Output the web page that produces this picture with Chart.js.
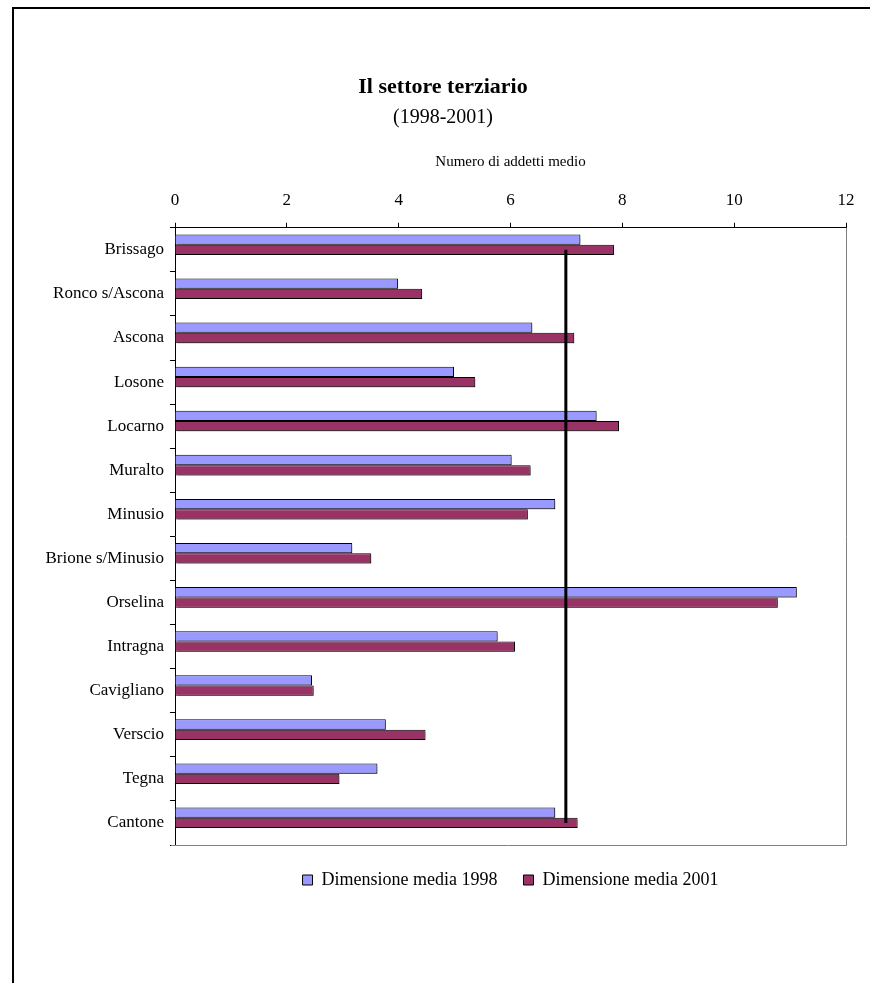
<!DOCTYPE html>
<html>
<head>
<meta charset="utf-8">
<script src="https://cdn.jsdelivr.net/npm/chart.js@4"></script>
<style>
  html, body { margin: 0; padding: 0; background: #fff; overflow: hidden; }
  #frame { position: absolute; left: 12px; top: 7px; width: 1000px; height: 1100px;
           border-left: 2px solid #000; border-top: 2px solid #000; }
  #wrap { position: absolute; left: 0; top: 0; width: 870px; height: 983px; }
</style>
</head>
<body>
<div id="frame"></div>
<div id="wrap"><canvas id="chart"></canvas></div>
<script>
// ── DATA ───────────────────────────────────────────────────────
const comuni = ['Brissago', 'Ronco s/Ascona', 'Ascona', 'Losone', 'Locarno', 'Muralto', 'Minusio',
  'Brione s/Minusio', 'Orselina', 'Intragna', 'Cavigliano', 'Verscio', 'Tegna', 'Cantone'];
const media1998 = [7.25, 3.99, 6.39, 4.99, 7.54, 6.02, 6.80, 3.17, 11.12, 5.77, 2.45, 3.77, 3.62, 6.80];
const media2001 = [7.85, 4.42, 7.14, 5.37, 7.94, 6.36, 6.31, 3.51, 10.78, 6.08, 2.48, 4.48, 2.94, 7.20];
const mediaCantone = [6.99, 6.99, 6.99, 6.99, 6.99, 6.99, 6.99, 6.99, 6.99, 6.99, 6.99, 6.99, 6.99, 6.99];
const spacer = [null, null, null, null, null, null, null, null, null, null, null, null, null, null];
const xTicks = [0, 2, 4, 6, 8, 10, 12];

const SERIF = '"Liberation Serif", "Times New Roman", serif';

// gray border on right / bottom of plot area
const plotFrame = {
  id: 'plotFrame',
  afterDraw(chart) {
    const { ctx, chartArea: a } = chart;
    ctx.save();
    ctx.strokeStyle = '#808080';
    ctx.lineWidth = 1;
    ctx.beginPath();
    ctx.moveTo(a.right + 0.5, a.top);
    ctx.lineTo(a.right + 0.5, a.bottom + 0.5);
    ctx.lineTo(a.left - 4, a.bottom + 0.5);
    ctx.stroke();
    ctx.restore();
  }
};

// light drop shadow on the bars
const barShadow = {
  id: 'barShadow',
  beforeDatasetDraw(chart, args) {
    if (args.meta.type !== 'bar') return;
    const ctx = chart.ctx;
    ctx.save();
    ctx.shadowColor = 'rgba(0,0,0,0.3)';
    ctx.shadowOffsetX = 2;
    ctx.shadowOffsetY = 2;
    ctx.shadowBlur = 0;
  },
  afterDatasetDraw(chart, args) {
    if (args.meta.type !== 'bar') return;
    chart.ctx.restore();
  }
};

new Chart(document.getElementById('chart'), {
  type: 'bar',
  data: {
    labels: comuni,
    datasets: [
      {
        type: 'line',
        label: 'Media',
        data: mediaCantone,
        indexAxis: 'y',
        borderColor: '#000',
        borderWidth: 3,
        pointRadius: 0,
        fill: false,
        order: -1
      },
      {
        label: 'Dimensione media 1998',
        data: media1998,
        backgroundColor: '#9999FF',
        borderColor: '#000',
        borderWidth: 1
      },
      {
        label: 'Dimensione media 2001',
        data: media2001,
        backgroundColor: '#993366',
        borderColor: '#000',
        borderWidth: 1
      },
      {
        label: 'spacer',
        data: spacer,
        backgroundColor: 'rgba(0,0,0,0)',
        borderWidth: 0
      }
    ]
  },
  options: {
    indexAxis: 'y',
    responsive: true,
    maintainAspectRatio: false,
    animation: false,
    categoryPercentage: 0.7,
    barPercentage: 1.0,
    layout: { padding: { left: 40, right: 24, top: 0, bottom: 84 } },
    plugins: {
      tooltip: { enabled: false },
      title: {
        display: true,
        text: 'Il settore terziario',
        color: '#000',
        font: { family: SERIF, size: 22, weight: 'bold' },
        padding: { top: 74, bottom: 2 }
      },
      subtitle: {
        display: true,
        text: '(1998-2001)',
        color: '#000',
        font: { family: SERIF, size: 20 },
        padding: { top: 3, bottom: 10 }
      },
      legend: {
        position: 'bottom',
        fullSize: false,
        labels: {
          color: '#000',
          font: { family: SERIF, size: 18 },
          boxWidth: 10,
          boxHeight: 10,
          padding: 26,
          filter: item => item.datasetIndex === 1 || item.datasetIndex === 2
        }
      }
    },
    scales: {
      x: {
        position: 'top',
        min: 0,
        max: 12,
        afterBuildTicks: s => { s.ticks = xTicks.map(v => ({ value: v })); },
        ticks: { color: '#000', font: { family: SERIF, size: 17 }, padding: 12, maxRotation: 0 },
        grid: { drawOnChartArea: false, color: '#000', tickLength: 5 },
        border: { color: '#000', width: 1 },
        title: {
          display: true,
          text: 'Numero di addetti medio',
          color: '#000',
          font: { family: SERIF, size: 15 },
          padding: { top: 14, bottom: 7 }
        }
      },
      y: {
        afterFit: s => { s.width = 135; },
        ticks: { color: '#000', font: { family: SERIF, size: 17 }, padding: 6 },
        grid: { drawOnChartArea: false, color: '#000', tickLength: 5, offset: true },
        border: { color: '#000', width: 1 }
      }
    }
  },
  plugins: [plotFrame, barShadow]
});
</script>
</body>
</html>
